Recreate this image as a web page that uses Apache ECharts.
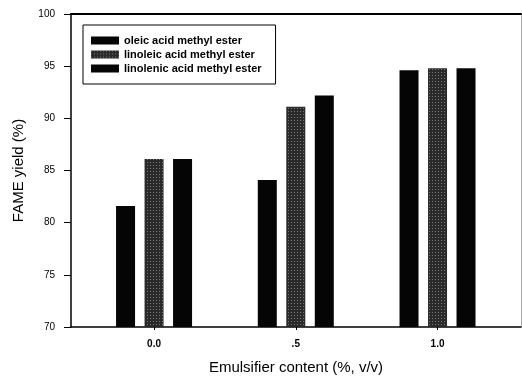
<!DOCTYPE html>
<html>
<head>
<meta charset="utf-8">
<script src="https://cdn.jsdelivr.net/npm/echarts@6/dist/echarts.min.js"></script>
<style>
  html, body { margin: 0; padding: 0; background: #fff; }
  #chart { width: 522px; height: 382px; }
</style>
</head>
<body>
<div id="chart"></div>
<script>
const categories = ["0.0", ".5", "1.0"];
const seriesNames = ["oleic acid methyl ester", "linoleic acid methyl ester", "linolenic acid methyl ester"];
const oleic = [81.6, 84.1, 94.6];
const linoleic = [86.1, 91.1, 94.8];
const linolenic = [86.1, 92.2, 94.8];
const yTicks = [70, 75, 80, 85, 90, 95, 100];

const chart = echarts.init(document.getElementById("chart"), null, { renderer: "canvas" });

const font = "Liberation Sans, Arial, sans-serif";
const pos = categories.map((c, i) => i);

function toPoints(vals) {
  return vals.map((v, i) => [pos[i], v]);
}

const dotted = {
  symbol: "rect",
  symbolSize: 1,
  color: "rgba(200,200,200,0.5)",
  dashArrayX: [1, 2],
  dashArrayY: [1, 2]
};

chart.setOption({
  animation: false,
  grid: { left: 71, right: 1, top: 14, bottom: 55 },
  legend: {
    orient: "vertical",
    left: 83,
    top: 25,
    padding: [10, 14, 10, 8],
    itemWidth: 28,
    itemHeight: 8,
    itemGap: 3,
    borderColor: "#000",
    borderWidth: 1,
    icon: "rect",
    data: seriesNames,
    textStyle: { fontFamily: font, fontSize: 11, fontWeight: "bold", color: "#000" }
  },
  xAxis: [
    {
      type: "value",
      min: -0.586,
      max: 2.589,
      name: "Emulsifier content (%, v/v)",
      nameLocation: "middle",
      nameGap: 33,
      nameTextStyle: { fontFamily: font, fontSize: 15, color: "#000" },
      splitLine: { show: false },
      axisLine: { onZero: false, lineStyle: { color: "#000", width: 1.5 } },
      axisTick: { show: true, length: 3, customValues: pos, lineStyle: { color: "#000" } },
      axisLabel: {
        customValues: pos,
        margin: 12,
        fontFamily: font,
        fontSize: 10,
        fontWeight: "bold",
        color: "#000",
        formatter: (v) => categories[Math.round(v)]
      }
    },
    {
      type: "value",
      position: "top",
      min: 0,
      max: 1,
      splitLine: { show: false },
      axisLine: { show: true, onZero: false, lineStyle: { color: "#000", width: 2 } },
      axisTick: { show: false },
      axisLabel: { show: false }
    }
  ],
  yAxis: [
    {
      type: "value",
      min: 70,
      max: 100,
      interval: 5,
      name: "FAME yield (%)",
      nameLocation: "middle",
      nameGap: 45,
      nameTextStyle: { fontFamily: font, fontSize: 15, color: "#000" },
      splitLine: { show: false },
      axisLine: { show: true, onZero: false, lineStyle: { color: "#000", width: 1.5 } },
      axisTick: { show: true, length: 7, lineStyle: { color: "#000" } },
      axisLabel: {
        margin: 16,
        fontFamily: font,
        fontSize: 10,
        color: "#000",
        formatter: (v) => (yTicks.includes(v) ? String(v) : "")
      }
    },
    {
      type: "value",
      position: "right",
      min: 0,
      max: 1,
      splitLine: { show: false },
      axisLine: { show: true, onZero: false, lineStyle: { color: "#aaa", width: 1 } },
      axisTick: { show: false },
      axisLabel: { show: false }
    }
  ],
  series: [
    {
      name: seriesNames[0],
      type: "bar",
      barWidth: 19,
      barGap: "50%",
      itemStyle: { color: "#050505" },
      data: toPoints(oleic)
    },
    {
      name: seriesNames[1],
      type: "bar",
      barWidth: 19,
      barGap: "50%",
      itemStyle: { color: "#2a2a2a", decal: dotted },
      data: toPoints(linoleic)
    },
    {
      name: seriesNames[2],
      type: "bar",
      barWidth: 19,
      barGap: "50%",
      itemStyle: { color: "#050505" },
      data: toPoints(linolenic)
    }
  ]
});
</script>
</body>
</html>
